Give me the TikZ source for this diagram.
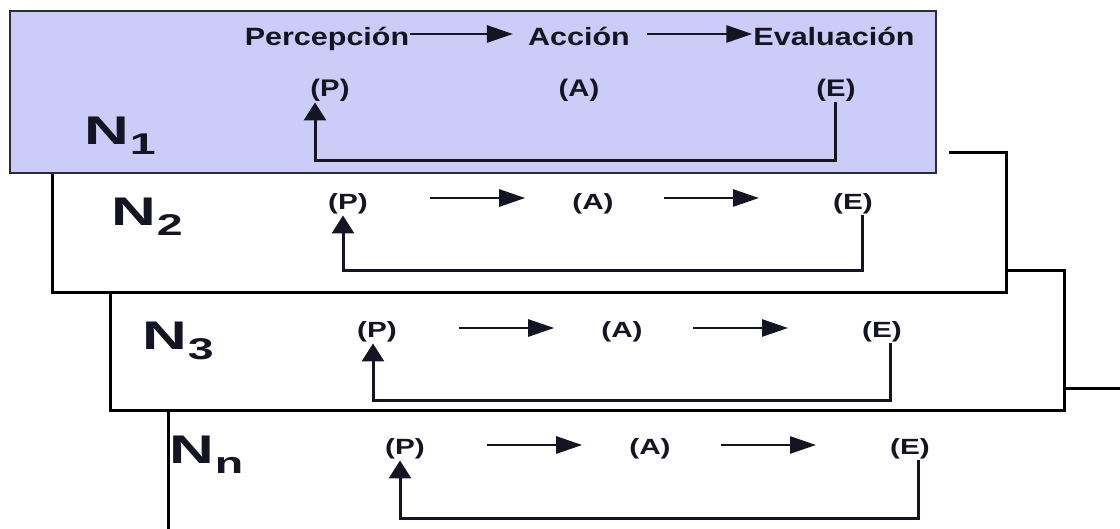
\documentclass[tikz,border=0pt]{standalone}
\usepackage{fontspec}
\setmainfont{Liberation Sans}
\newfontfamily\hfont{Liberation Sans}[FakeStretch=1.22]
\newfontfamily\pfont{Liberation Sans}[FakeStretch=1.35]
\newfontfamily\nfont{Liberation Sans}[FakeStretch=1.55]
\usetikzlibrary{arrows.meta}
\definecolor{lav}{RGB}{204,204,248}
\definecolor{ink}{RGB}{20,20,35}
\tikzset{
  lbl/.style={font=\pfont\bfseries\fontsize{22}{22}\selectfont, text=ink, inner sep=1pt},
  lblone/.style={font=\hfont\bfseries\fontsize{24}{24}\selectfont, text=ink, inner sep=1pt},
  hdr/.style={font=\hfont\bfseries\fontsize{25}{25}\selectfont, text=ink, inner sep=1pt, anchor=base},
  nlab/.style={anchor=base west, inner sep=0pt, text=ink},
  harrow/.style={draw=ink, line width=2.7pt, -{Triangle[length=26pt,width=17pt]}},
  aone/.style={harrow, shorten <=61pt, shorten >=46pt},
  atwo/.style={harrow, shorten <=49pt, shorten >=73pt},
  fb/.style={draw=ink, line width=3pt, -{Triangle[length=18pt,width=22pt]}},
  frame/.style={draw=black, line width=3pt},
}
\newcommand{\nlabel}[1]{\nfont\bfseries\fontsize{40}{40}\selectfont N\kern1pt\raisebox{-10pt}{\fontsize{30}{30}\selectfont #1}}
\begin{document}
\begin{tikzpicture}[x=1pt,y=-1pt]
\useasboundingbox (0,0) rectangle (1120,528);
\fill[white] (0,0) rectangle (1120,528);
\clip (0,0) rectangle (1120,528);

% frames (back to front)
\draw[frame] (1064,388) -- (1130,388);
\draw[frame] (168,410) -- (168,540);
\draw[frame] (1006,270) -- (1064,270) -- (1064,410) -- (110,410) -- (110,292);
\draw[frame] (949,152) -- (1006,152) -- (1006,292) -- (52,292) -- (52,173);
\filldraw[fill=lav, draw=ink!90, line width=2pt] (10,11) rectangle (936,173);

% level 1
\node[hdr] (perc) at (327,45) {Percepción};
\node[hdr] (acc) at (579,45) {Acción};
\node[hdr] (eval) at (834,45) {Evaluación};
\coordinate (hy) at (0,34);
\draw[harrow, shorten >=14pt] (perc.east |- hy) -- (acc.west |- hy);
\draw[harrow, shorten <=16pt] (acc.east |- hy) -- (eval.west |- hy);
\node[lblone] (p1) at (330,90) {(P)};
\node[lblone] (a1) at (579,90) {(A)};
\node[lblone] (e1) at (836,90) {(E)};
\coordinate (f1) at (0,160);
\draw[fb] ([xshift=-1pt]e1.south) |- ([xshift=-15pt]p1.south |- f1) -- ([xshift=-15pt]p1.south);
\node[nlab] (n1) at (84,144) {\nlabel{1}};

% level 2
\node[lbl] (p2) at (348,204) {(P)};
\node[lbl] (a2) at (593,204) {(A)};
\node[lbl] (e2) at (853,204) {(E)};
\draw[aone] ([yshift=6pt]p2.east) -- ([yshift=6pt]a2.west);
\draw[atwo] ([yshift=6pt]a2.east) -- ([yshift=6pt]e2.west);
\coordinate (f2) at (0,270);
\draw[fb] ([xshift=9pt]e2.south) |- ([xshift=-5pt]p2.south |- f2) -- ([xshift=-5pt]p2.south);
\node[nlab] (n2) at (111,225) {\nlabel{2}};

% level 3
\node[lbl] (p3) at (377,332) {(P)};
\node[lbl] (a3) at (622,332) {(A)};
\node[lbl] (e3) at (882,332) {(E)};
\draw[aone] ([yshift=4pt]p3.east) -- ([yshift=4pt]a3.west);
\draw[atwo] ([yshift=4pt]a3.east) -- ([yshift=4pt]e3.west);
\coordinate (f3) at (0,400);
\draw[fb] ([xshift=8pt]e3.south) |- ([xshift=-4pt]p3.south |- f3) -- ([xshift=-4pt]p3.south);
\node[nlab] (n3) at (142,349) {\nlabel{3}};

% level n
\node[lbl] (p4) at (405,449) {(P)};
\node[lbl] (a4) at (650,449) {(A)};
\node[lbl] (e4) at (910,449) {(E)};
\draw[aone] ([yshift=4pt]p4.east) -- ([yshift=4pt]a4.west);
\draw[atwo] ([yshift=4pt]a4.east) -- ([yshift=4pt]e4.west);
\coordinate (f4) at (0,518);
\draw[fb] ([xshift=8pt]e4.south) |- ([xshift=-5pt]p4.south |- f4) -- ([xshift=-5pt]p4.south);
\node[nlab] (n4) at (169,463) {\nlabel{n}};
\end{tikzpicture}
\end{document}
